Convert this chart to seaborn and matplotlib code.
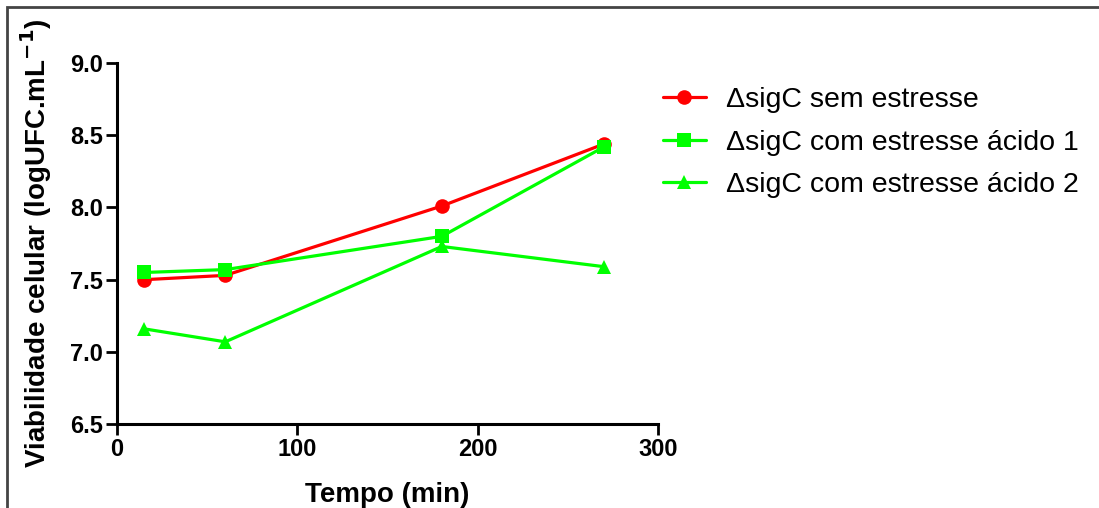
import matplotlib
matplotlib.use("Agg")
import matplotlib.pyplot as plt
import seaborn as sns
import pandas as pd
from matplotlib.patches import Rectangle

tempo = [15, 60, 180, 270]
sem_estresse = [7.50, 7.53, 8.01, 8.44]
acido_1 = [7.55, 7.57, 7.80, 8.42]
acido_2 = [7.16, 7.07, 7.73, 7.59]
series_names = ["\u0394sigC sem estresse", "\u0394sigC com estresse ácido 1", "\u0394sigC com estresse ácido 2"]
x_ticks = [0, 100, 200, 300]
y_ticks = [6.5, 7.0, 7.5, 8.0, 8.5, 9.0]

rows = []
for name, vals in zip(series_names, [sem_estresse, acido_1, acido_2]):
    for t, v in zip(tempo, vals):
        rows.append({"Tempo": t, "Valor": v, "Serie": name})
df = pd.DataFrame(rows)

sns.set_style("ticks", {"text.color": "black", "xtick.color": "black", "ytick.color": "black",
                        "axes.labelcolor": "black", "axes.edgecolor": "black"})
plt.rcParams['font.family'] = ['Liberation Sans', 'DejaVu Sans']

fig = plt.figure(figsize=(10.99, 5.08), dpi=100)
ax = fig.add_axes([0.1065, 0.165, 0.4925, 0.711])

palette = {series_names[0]: "#ff0000", series_names[1]: "#00ff00", series_names[2]: "#00ff00"}
markers = {series_names[0]: "o", series_names[1]: "s", series_names[2]: "^"}
sns.lineplot(data=df, x="Tempo", y="Valor", hue="Serie", style="Serie",
             palette=palette, markers=markers, dashes=False, ax=ax,
             linewidth=2.3, markersize=10.5, markeredgewidth=0, hue_order=series_names,
             style_order=series_names)

ax.set_xlim(0, 300)
ax.set_ylim(6.5, 9.0)
ax.set_xticks(x_ticks)
ax.set_yticks(y_ticks)
ax.set_yticklabels([f"{v:.1f}" for v in y_ticks])
for lab in ax.get_xticklabels() + ax.get_yticklabels():
    lab.set_fontweight("bold")
    lab.set_fontsize(17)
ax.tick_params(width=2, length=8, direction="out", pad=2)
for s in ["left", "bottom"]:
    ax.spines[s].set_linewidth(2.2)
sns.despine(ax=ax)

ax.set_xlabel("Tempo (min)", fontsize=20, fontweight="bold", labelpad=15)
ax.set_ylabel("Viabilidade celular (logUFC.mL$^{\\mathbf{-1}}$)", fontsize=20, fontweight="bold", labelpad=12)

leg = ax.legend(loc="upper left", bbox_to_anchor=(663/1099, (508-87)/508), bbox_transform=fig.transFigure,
                frameon=False, borderpad=0, borderaxespad=0,
                fontsize=20.5, handlelength=1.5, handletextpad=0.7, labelspacing=0.58)
for t in leg.get_texts():
    t.set_color("black")

fig.patches.append(Rectangle((7/1099, -0.1), 1.2, (508-7)/508 + 0.1, transform=fig.transFigure,
                             fill=False, edgecolor="#444444", linewidth=2, zorder=10))

fig.savefig("out.png", dpi=100)
